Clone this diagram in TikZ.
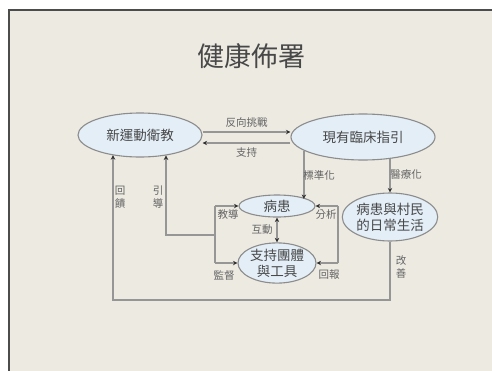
\documentclass[tikz,border=0pt]{standalone}
\usepackage{fontspec}
\setmainfont{Noto Sans CJK TC}
\usetikzlibrary{shapes.geometric,arrows.meta}
\definecolor{bgc}{RGB}{237,234,226}
\definecolor{ellfill}{RGB}{227,238,247}
\definecolor{ellline}{RGB}{140,140,140}
\definecolor{txt}{RGB}{72,72,72}
\definecolor{linec}{RGB}{150,150,150}
\definecolor{tipc}{RGB}{50,50,50}
\tikzset{
  ell/.style={ellipse, draw=ellline, line width=1.1pt, fill=ellfill, inner sep=0pt,
    text=txt, font=\fontsize{13.5}{16}\selectfont, align=center},
  conn/.style={draw=linec, line width=1.3pt},
  arr/.style={conn, -{Stealth[length=4.5pt,width=4.5pt,color=tipc]}},
  arrb/.style={conn, {Stealth[length=4.5pt,width=4.5pt,color=tipc]}-{Stealth[length=4.5pt,width=4.5pt,color=tipc]}},
  lbl/.style={text=txt!85, font=\fontsize{10.5}{12.5}\selectfont, align=center, inner sep=1pt},
}
\begin{document}
\begin{tikzpicture}[x=1pt,y=-1pt]
\useasboundingbox (0,0) rectangle (492,370);
\fill[white] (0,0) rectangle (492,370);
\fill[bgc] (9,10) rectangle (500,380);
\draw[black!70, line width=1.6pt] (9,380) -- (9,10) -- (500,10);

\node[text=txt, font=\fontsize{27}{30}\selectfont] (title) at (251,56) {健康佈署};

\node[ell, minimum width=124pt, minimum height=44pt] (E1) at (140,135) {新運動衛教};
\node[ell, minimum width=144pt, minimum height=46pt] (E2) at (363,137) {現有臨床指引};
\node[ell, minimum width=76pt, minimum height=22pt] (P) at (277,206) {病患};
\node[ell, minimum width=78pt, minimum height=40pt] (S) at (277,263) {支持團體\\與工具};
\node[ell, minimum width=84pt, minimum height=48pt] (D) at (390,217) {病患與村民\\的日常生活};

% top pair
\draw[arr] ([yshift=3pt]E1.east) -- ([yshift=3pt]E1.east -| E2.west)
  node[lbl, midway, above=3pt] (l1) {反向挑戰};
\draw[arr] ([yshift=-8pt]E1.east -| E2.west) -- ([yshift=-8pt]E1.east)
  node[lbl, midway, below=3pt] (l2) {支持};

% from E2 down
\draw[arr] (E2.193.8) -- (E2.193.8 |- P.13.8);
\draw[arr] (E2.321.7) -- (E2.321.7 |- D.north);
\node[lbl] (l3) at (319,175) {標準化};
\node[lbl] (l4) at (406,175) {醫療化};

% feedback loop
\coordinate (fb) at (113,300);
\draw[arr] (D.south) -- (D.south |- fb) -- (fb) -- (fb |- E1.216.25);
\node[lbl] (l5) at (120,197) {回\\饋};
\node[lbl] (l6) at (401,267) {改\\善};

% left bracket
\coordinate (bl) at (215,235);
\coordinate (gl) at (166,235);
\draw[conn] (bl |- P.west) -- (bl |- S.west);
\draw[arr] (bl) -- (gl) -- (gl |- E1.322.5);
\draw[arr] (bl |- P.west) -- (P.west);
\draw[arr] (bl |- S.west) -- (S.west);
\node[lbl] (l7) at (158,197) {引\\導};
\node[lbl] (l8) at (228,215) {教導};
\node[lbl] (l9) at (224,275) {監督};

% right bracket
\coordinate (br) at (338,235);
\draw[conn] (br |- P.east) -- (br |- S.east);
\draw[arr] (br |- P.east) -- (P.east);
\draw[arr] (br |- S.east) -- (S.east);
\node[lbl] (l10) at (326,215) {分析};
\node[lbl] (l11) at (329,275) {回報};

% interaction
\draw[arrb] (P.south) -- (S.north);
\node[lbl] (l12) at (262,230) {互動};
\end{tikzpicture}
\end{document}
